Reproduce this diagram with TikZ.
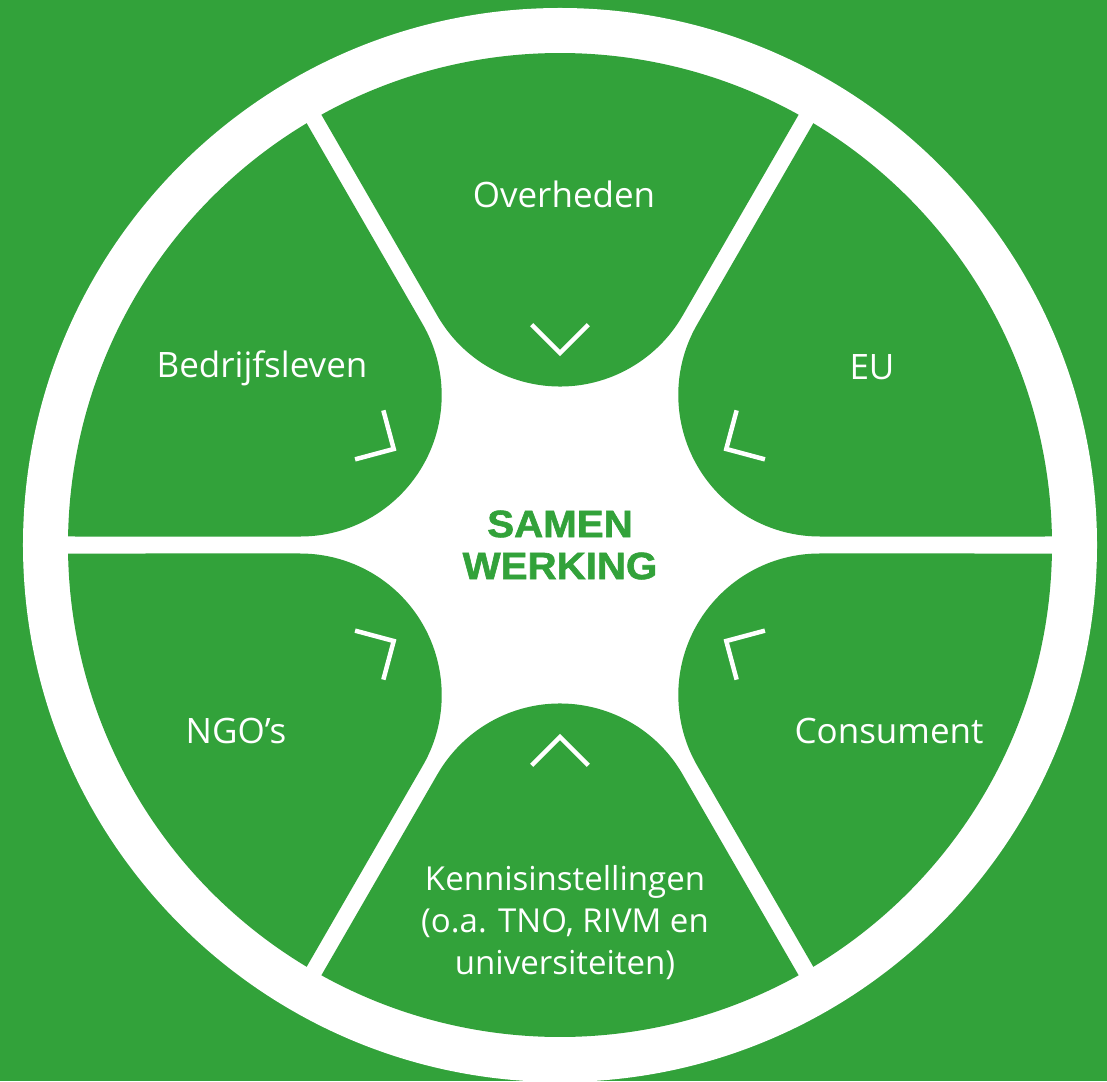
\documentclass[tikz,border=0pt]{standalone}
\usepackage{fontspec}
\setmainfont{Open Sans}
\newfontfamily\heavyfont{Liberation Sans}[FakeStretch=1.06, BoldFeatures={FakeBold=1.6}]
\definecolor{coopgreen}{RGB}{50,162,58}

\tikzset{
  sectortext/.style={text=white, anchor=base, font=\fontsize{35}{42}\selectfont},
  chevron/.style={draw=white, line width=4.5, line cap=butt, line join=miter},
}

\begin{document}
\begin{tikzpicture}[x=1pt,y=1pt]

    % Background
    \fill[coopgreen] (-560,-536) rectangle (547,545);
    \useasboundingbox (-560,-536) rectangle (547,545);

    % White ring
    \fill[white] (0,0) circle (537);

    % Six sectors (rounded tip towards the centre) and their chevrons
    \foreach \a in {30,90,...,330} {
      \fill[coopgreen, rotate=\a]
        (229.25,-122.55) -- (-29.01:492)
        arc[start angle=-29.01, end angle=29.01, radius=492]
        -- (229.25,122.55)
        arc[start angle=120, end angle=240, radius=141.5] -- cycle;
      \draw[chevron, rotate=\a] (0:192) ++(45:40) -- (0:192) -- +(-45:40);
    }

    % Partners
    \node[sectortext] (overheden) at (4,337) {Overheden};
    \node[sectortext] (bedrijf) at (-298,167) {Bedrijfsleven};
    \node[sectortext] (eu) at (312,165) {EU};
    \node[sectortext] (ngo) at (-324,-198) {NGO’s};
    \node[sectortext] (consument) at (329,-198) {Consument};
    \node[sectortext, anchor=center, align=center, font=\fontsize{33}{42}\selectfont]
      (kennis) at (5,-378) {Kennisinstellingen\\(o.a. TNO, RIVM en\\universiteiten)};

    % Centre
    \node[text=coopgreen, align=center, font=\heavyfont\bfseries\fontsize{38}{42}\selectfont]
      (samen) at (0,0) {SAMEN\\WERKING};

\end{tikzpicture}
\end{document}
